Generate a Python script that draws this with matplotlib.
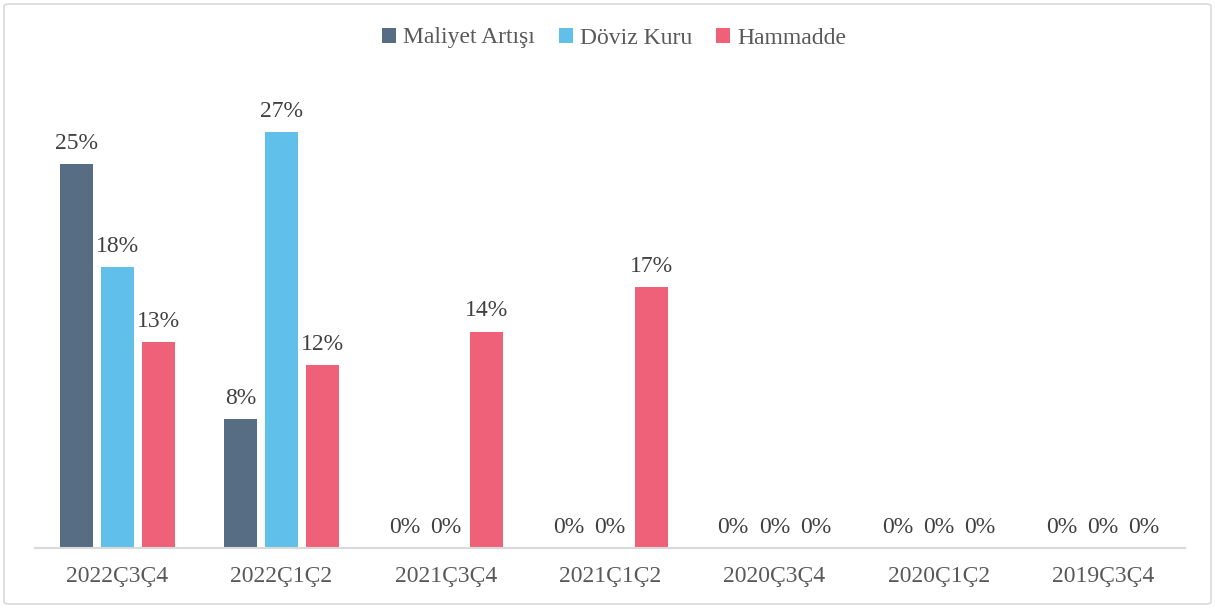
import numpy as np
import matplotlib
matplotlib.use('Agg')
import matplotlib.pyplot as plt
from matplotlib.patches import FancyBboxPatch

plt.rcParams['font.family'] = ['Liberation Serif', 'DejaVu Serif']

# data (shares, labels shown rounded to whole percent)
categories = ['2022Ç3Ç4', '2022Ç1Ç2', '2021Ç3Ç4', '2021Ç1Ç2', '2020Ç3Ç4', '2020Ç1Ç2', '2019Ç3Ç4']
series_names = ['Maliyet Artışı', 'Döviz Kuru', 'Hammadde']
maliyet = [0.250, 0.084, 0.0, 0.0, 0.0, 0.0, 0.0]
doviz = [0.183, 0.271, 0.0, 0.0, 0.0, 0.0, 0.0]
hammadde = [0.134, 0.119, 0.141, 0.170, 0.0, 0.0, 0.0]
colors = ['#566D84', '#61C0E9', '#EF6079']

fig = plt.figure(figsize=(12.15, 6.08), dpi=100)
ax = fig.add_axes([35 / 1215, 60 / 608, 1150 / 1215, 468 / 608])

x = np.arange(len(categories))
width = 0.2
step = 0.25
for i, (vals, name, col) in enumerate(zip([maliyet, doviz, hammadde], series_names, colors)):
    pos = x + (i - 1) * step
    bars = ax.bar(pos, vals, width=width, color=col, label=name, zorder=2)
    for b, v in zip(bars, vals):
        ax.annotate('{:.0f}%'.format(v * 100), (b.get_x() + b.get_width() / 2, v),
                    xytext=(0, 7.5), textcoords='offset points', ha='center', va='bottom',
                    fontsize=17, color='#404040')

ax.set_xlim(-0.5, len(categories) - 0.5)
ax.set_ylim(0, 0.305)
ax.set_xticks(x)
ax.set_xticklabels(categories, fontsize=17, color='#595959')
ax.tick_params(axis='x', length=0, pad=13)
ax.set_yticks([])
for s in ['top', 'right', 'left']:
    ax.spines[s].set_visible(False)
ax.spines['bottom'].set_color('#D9D9D9')
ax.spines['bottom'].set_linewidth(1.5)

leg = fig.legend(loc='center', bbox_to_anchor=(614 / 1215, 1 - 38 / 608), ncol=3, frameon=False,
                 fontsize=17, handlelength=0.6, handleheight=0.6, handletextpad=0.3,
                 columnspacing=1.0)
for t in leg.get_texts():
    t.set_color('#595959')

# outer border
border = FancyBboxPatch((4 / 1215, 4 / 608), 1207 / 1215, 600 / 608,
                        boxstyle='round,pad=0,rounding_size=0.004', transform=fig.transFigure,
                        fill=False, edgecolor='#D9D9D9', linewidth=1.2)
fig.patches.append(border)

fig.savefig('out.png', dpi=100)
